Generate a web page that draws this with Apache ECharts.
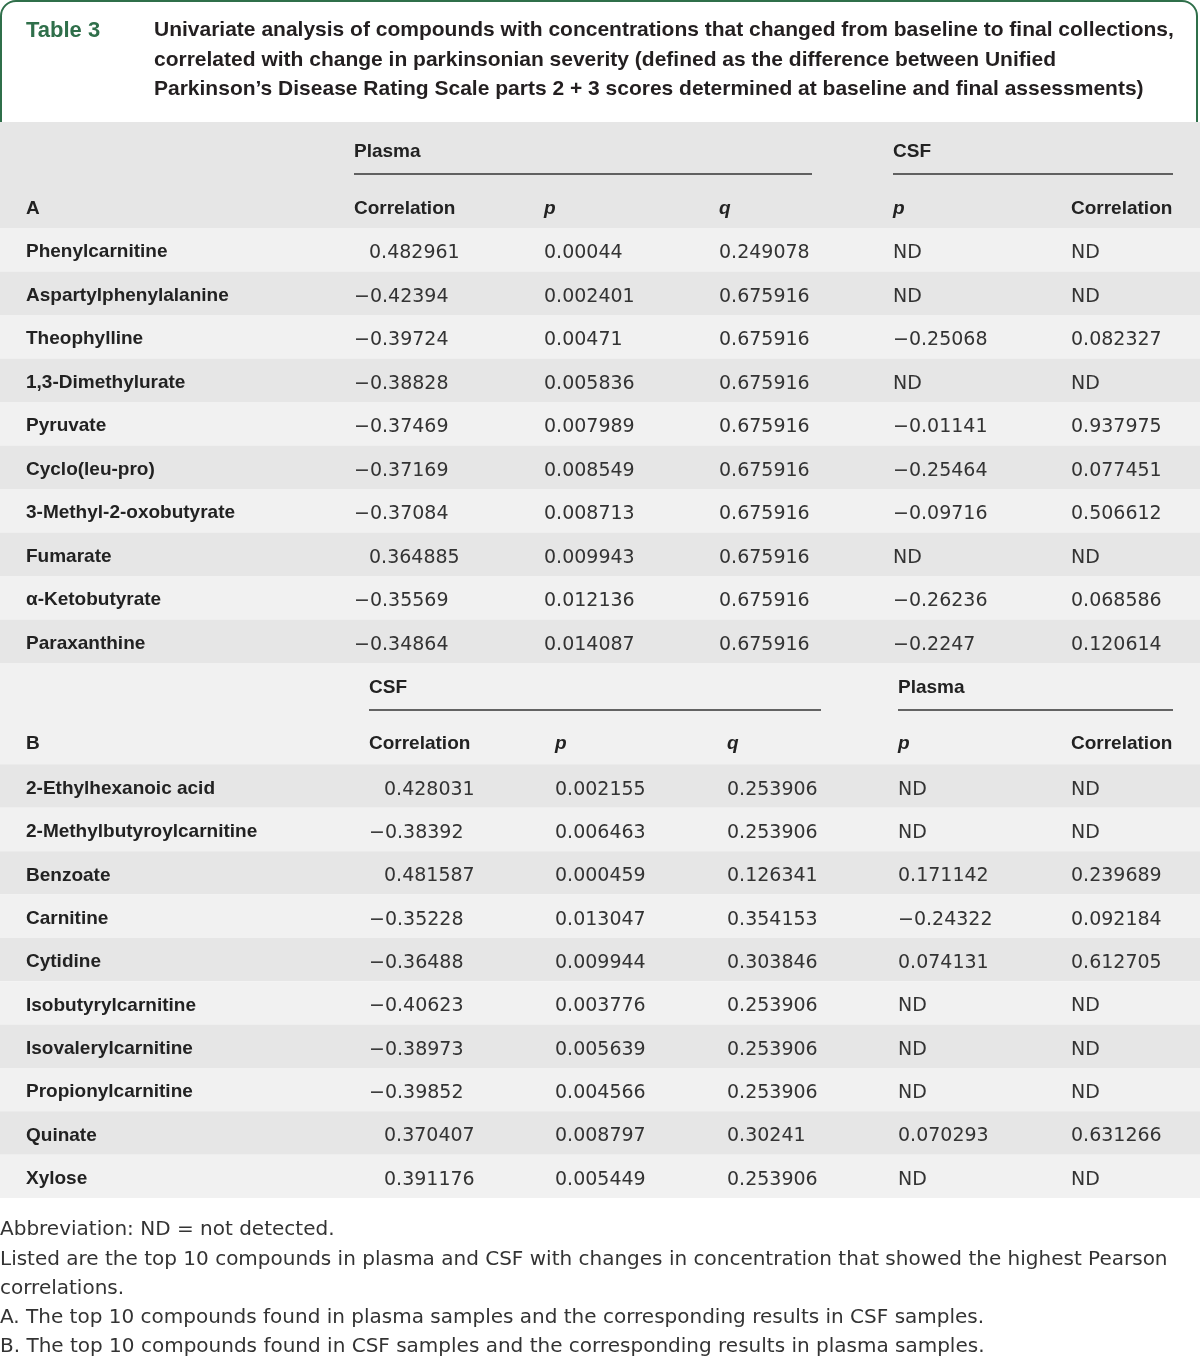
<!DOCTYPE html>
<html><head><meta charset="utf-8">
<script src="https://cdn.jsdelivr.net/npm/echarts@6/dist/echarts.min.js"></script>
<style>html,body{margin:0;padding:0;background:#fff}#c{width:1200px;height:1359px}</style>
</head><body><div id="c"></div>
<script>
// ---------- DATA ----------
const tableLabel = 'Table 3';
const titleLines = [
  'Univariate analysis of compounds with concentrations that changed from baseline to final collections,',
  'correlated with change in parkinsonian severity (defined as the difference between Unified',
  'Parkinson\u2019s Disease Rating Scale parts 2 + 3 scores determined at baseline and final assessments)'
];
const groupA = ['Plasma', 'CSF'];
const groupB = ['CSF', 'Plasma'];
const colHeads = ['Correlation', 'p', 'q', 'p', 'Correlation'];

const compoundsA = ['Phenylcarnitine','Aspartylphenylalanine','Theophylline','1,3-Dimethylurate','Pyruvate','Cyclo(leu-pro)','3-Methyl-2-oxobutyrate','Fumarate','\u03b1-Ketobutyrate','Paraxanthine'];
const plasmaCorrA = [0.482961,-0.42394,-0.39724,-0.38828,-0.37469,-0.37169,-0.37084,0.364885,-0.35569,-0.34864];
const plasmaPA = [0.00044,0.002401,0.00471,0.005836,0.007989,0.008549,0.008713,0.009943,0.012136,0.014087];
const plasmaQA = [0.249078,0.675916,0.675916,0.675916,0.675916,0.675916,0.675916,0.675916,0.675916,0.675916];
const csfPA = [null,null,-0.25068,null,-0.01141,-0.25464,-0.09716,null,-0.26236,-0.2247];
const csfCorrA = [null,null,0.082327,null,0.937975,0.077451,0.506612,null,0.068586,0.120614];

const compoundsB = ['2-Ethylhexanoic acid','2-Methylbutyroylcarnitine','Benzoate','Carnitine','Cytidine','Isobutyrylcarnitine','Isovalerylcarnitine','Propionylcarnitine','Quinate','Xylose'];
const csfCorrB = [0.428031,-0.38392,0.481587,-0.35228,-0.36488,-0.40623,-0.38973,-0.39852,0.370407,0.391176];
const csfPB = [0.002155,0.006463,0.000459,0.013047,0.009944,0.003776,0.005639,0.004566,0.008797,0.005449];
const csfQB = [0.253906,0.253906,0.126341,0.354153,0.303846,0.253906,0.253906,0.253906,0.30241,0.253906];
const plasmaPB = [null,null,0.171142,-0.24322,0.074131,null,null,null,0.070293,null];
const plasmaCorrB = [null,null,0.239689,0.092184,0.612705,null,null,null,0.631266,null];

const footnotes = [
  'Abbreviation: ND = not detected.',
  'Listed are the top 10 compounds in plasma and CSF with changes in concentration that showed the highest Pearson',
  'correlations.',
  'A. The top 10 compounds found in plasma samples and the corresponding results in CSF samples.',
  'B. The top 10 compounds found in CSF samples and the corresponding results in plasma samples.'
];

// ---------- STYLE / LAYOUT ----------
const W = 1200;
const GREEN = '#2f6f4a';
const DARK = '#e6e6e6', LIGHT = '#f1f1f1';
const BOLD = 'bold 19px "Liberation Sans", Arial, sans-serif';
const BOLDI = 'italic bold 19px "Liberation Sans", Arial, sans-serif';
const NUM = '19px "DejaVu Sans", sans-serif';
const NUMCOL = '#333';
const TXT = '#222';
const TEXT_DY = 3.5;
const layA = {top:228, height:435, cols:[354,544,719,893,1071], posOff:[15,0,0,0,0], headY:210, groupY:153, lineY:174, spans:[[354,812],[893,1173]], firstDark:false};
const layB = {top:764.5, height:433.5, cols:[369,555,727,898,1071], posOff:[15,0,0,0,0], headY:745, groupY:689, lineY:710, spans:[[369,821],[898,1173]], firstDark:true};

function fmt(v){ return v === null ? 'ND' : String(v).replace('-', '\u2212'); }

function makeRender(cols, lay){
  return function(params, api){
    const i = api.value(1);
    const c = api.coord([0, i]);
    const h = api.size([0, 1])[1];
    const dark = (i % 2 === 0) === lay.firstDark;
    const children = [{type:'rect', shape:{x:0, y:c[1]-h/2, width:W, height:h}, style:{fill: dark ? DARK : LIGHT}, z2:0}];
    cols.forEach((arr, k) => {
      const v = arr[i];
      const off = (v !== null && v >= 0) ? lay.posOff[k] : 0;
      const px = api.coord([lay.cols[k] + off, i])[0];
      children.push({type:'text', x:px, y:c[1] + TEXT_DY, z2:2, style:{text: fmt(v), font: NUM, fill: NUMCOL, align:'left', verticalAlign:'middle'}});
    });
    return {type:'group', children};
  };
}

function headerGraphics(lay, groups, letter){
  const g = [];
  g.push({type:'text', left:26, top:lay.headY-11, style:{text:letter, font:BOLD, fill:TXT}});
  groups.forEach((name, k) => {
    const s = lay.spans[k];
    g.push({type:'text', left:s[0], top:lay.groupY-11, style:{text:name, font:BOLD, fill:TXT}});
    g.push({type:'line', shape:{x1:s[0], y1:lay.lineY, x2:s[1], y2:lay.lineY}, style:{stroke:'#333', lineWidth:1.5}});
  });
  colHeads.forEach((t, k) => {
    const x = lay.cols[k];
    g.push({type:'text', left:x, top:lay.headY-11, style:{text:t, font: (t.length === 1 ? BOLDI : BOLD), fill:TXT}});
  });
  return g;
}

const graphics = [
  {type:'rect', shape:{x:1, y:1, width:1196, height:140, r:[15,15,0,0]}, style:{fill:'#fff', stroke:GREEN, lineWidth:2}, z:-10},
  {type:'rect', shape:{x:0, y:122, width:W, height:106}, style:{fill:DARK}, z:-5},
  {type:'rect', shape:{x:0, y:663, width:W, height:102}, style:{fill:LIGHT}, z:-5},
  {type:'text', left:26, top:20, style:{text:tableLabel, font:'bold 22px "Liberation Sans", Arial, sans-serif', fill:GREEN}}
];
titleLines.forEach((t, k) => graphics.push({type:'text', left:154, top:20 + k*29.5, style:{text:t, font:'bold 21px "Liberation Sans", Arial, sans-serif', fill:'#231f20'}}));
graphics.push(...headerGraphics(layA, groupA, 'A'));
graphics.push(...headerGraphics(layB, groupB, 'B'));
footnotes.forEach((t, k) => graphics.push({type:'text', left:0, top:1220 + k*29.3, style:{text:t, font:'20px "DejaVu Sans", sans-serif', fill:'#333'}}));

function yAx(idx, cats){
  return {type:'category', gridIndex:idx, data:cats, inverse:true, z:10,
    axisLine:{show:false}, axisTick:{show:false}, splitLine:{show:false},
    axisLabel:{inside:true, margin:26, fontFamily:'"Liberation Sans", Arial, sans-serif', fontWeight:'bold', fontSize:19, color:TXT, align:'left', lineHeight:19, verticalAlign:'top', padding:[-7,0,0,0]}};
}
function xAx(idx){ return {type:'value', gridIndex:idx, min:0, max:W, show:false}; }

const chart = echarts.init(document.getElementById('c'), null, {renderer:'canvas'});
chart.setOption({
  animation:false,
  backgroundColor:'#fff',
  grid:[
    {left:0, right:0, top:layA.top, height:layA.height},
    {left:0, right:0, top:layB.top, height:layB.height}
  ],
  xAxis:[xAx(0), xAx(1)],
  yAxis:[yAx(0, compoundsA), yAx(1, compoundsB)],
  series:[
    {type:'custom', xAxisIndex:0, yAxisIndex:0, encode:{x:0, y:1},
     data: compoundsA.map((_, i) => [0, i]),
     renderItem: makeRender([plasmaCorrA, plasmaPA, plasmaQA, csfPA, csfCorrA], layA)},
    {type:'custom', xAxisIndex:1, yAxisIndex:1, encode:{x:0, y:1},
     data: compoundsB.map((_, i) => [0, i]),
     renderItem: makeRender([csfCorrB, csfPB, csfQB, plasmaPB, plasmaCorrB], layB)}
  ],
  graphic: graphics
});
</script></body></html>
